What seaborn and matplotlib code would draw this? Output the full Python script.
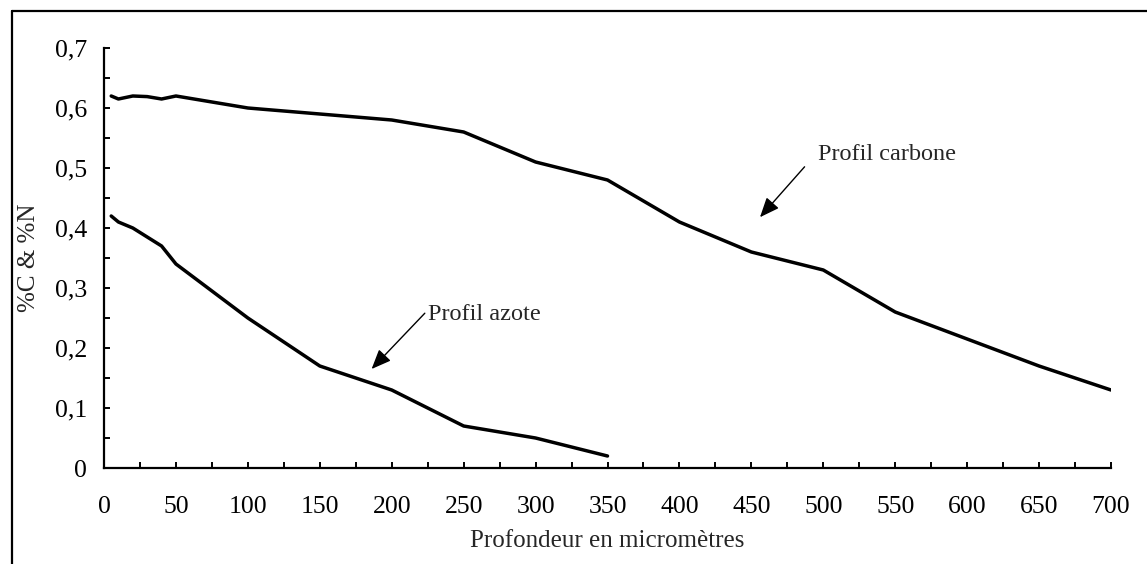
import matplotlib
matplotlib.use('Agg')
import matplotlib.pyplot as plt
from matplotlib.lines import Line2D
from matplotlib.ticker import MultipleLocator, FuncFormatter
import pandas as pd
import seaborn as sns


# profil carbone (%C) en fonction de la profondeur (micromètres)
carbone_x = [5, 10, 20, 30, 40, 50, 100, 150, 200, 250, 300, 350, 400, 450, 500, 550, 600, 650, 700]
carbone_y = [0.62, 0.615, 0.62, 0.619, 0.615, 0.62, 0.60, 0.59, 0.58, 0.56, 0.51, 0.48, 0.41, 0.36, 0.33,
             0.26, 0.215, 0.17, 0.13]

# profil azote (%N)
azote_x = [5, 10, 20, 30, 40, 50, 100, 150, 200, 250, 300, 350]
azote_y = [0.42, 0.41, 0.40, 0.385, 0.37, 0.34, 0.25, 0.17, 0.13, 0.07, 0.05, 0.02]

x_label = 'Profondeur en micromètres'
y_label = '%C & %N'


def virgule(val, pos):
    # format français : 0,1 au lieu de 0.1
    if abs(val) < 1e-9:
        return '0'
    return '{:.1f}'.format(val).replace('.', ',')


sns.set_style('ticks')
plt.rcParams['font.family'] = ['Liberation Serif', 'DejaVu Serif']

df = pd.concat([
    pd.DataFrame({'profondeur': carbone_x, 'pourcent': carbone_y, 'profil': 'carbone'}),
    pd.DataFrame({'profondeur': azote_x, 'pourcent': azote_y, 'profil': 'azote'}),
])

fig = plt.figure(figsize=(11.47, 5.64), dpi=100)
ax = fig.add_axes([0.0907, 0.1702, 0.8779, 0.7447])

sns.lineplot(data=df, x='profondeur', y='pourcent', units='profil', estimator=None,
             color='black', linewidth=2.5, ax=ax, legend=False)

ax.set_xlim(0, 700)
ax.set_ylim(0, 0.7)
ax.xaxis.set_major_locator(MultipleLocator(50))
ax.xaxis.set_minor_locator(MultipleLocator(25))
ax.yaxis.set_major_locator(MultipleLocator(0.1))
ax.yaxis.set_minor_locator(MultipleLocator(0.05))
ax.yaxis.set_major_formatter(FuncFormatter(virgule))

for side in ['top', 'right']:
    ax.spines[side].set_visible(False)
for side in ['left', 'bottom']:
    ax.spines[side].set_linewidth(1.6)
    ax.spines[side].set_color('black')

ax.tick_params(axis='both', which='both', direction='in', length=4, width=1.4, color='black',
               labelsize=18.5, labelcolor='black')
ax.tick_params(axis='x', which='major', pad=20)
ax.tick_params(axis='y', which='major', pad=12)

ax.set_xlabel(x_label, fontsize=18, labelpad=9)
ax.set_ylabel(y_label, fontsize=18)
ax.yaxis.set_label_coords(-0.064, 0.5)

# annotations avec flèches
fleche = dict(arrowstyle='-|>,head_length=0.6,head_width=0.25', color='black', lw=1,
              mutation_scale=20, shrinkA=0, shrinkB=0)
ax.annotate('', xy=(186, 0.165), xytext=(223, 0.258), arrowprops=fleche)
ax.text(225, 0.256, 'Profil azote', fontsize=17.5, ha='left', va='center')
ax.annotate('', xy=(456, 0.418), xytext=(487, 0.502), arrowprops=fleche)
ax.text(496, 0.522, 'Profil carbone', fontsize=17.5, ha='left', va='center')

# cadre autour de la figure (haut et gauche)
fig.add_artist(Line2D([12 / 1147, 1.0], [1 - 11 / 564, 1 - 11 / 564], color='black', lw=1.6,
                      transform=fig.transFigure))
fig.add_artist(Line2D([12 / 1147, 12 / 1147], [1 - 11 / 564, 0.0], color='black', lw=1.6,
                      transform=fig.transFigure))

plt.savefig('out.png', dpi=100)
